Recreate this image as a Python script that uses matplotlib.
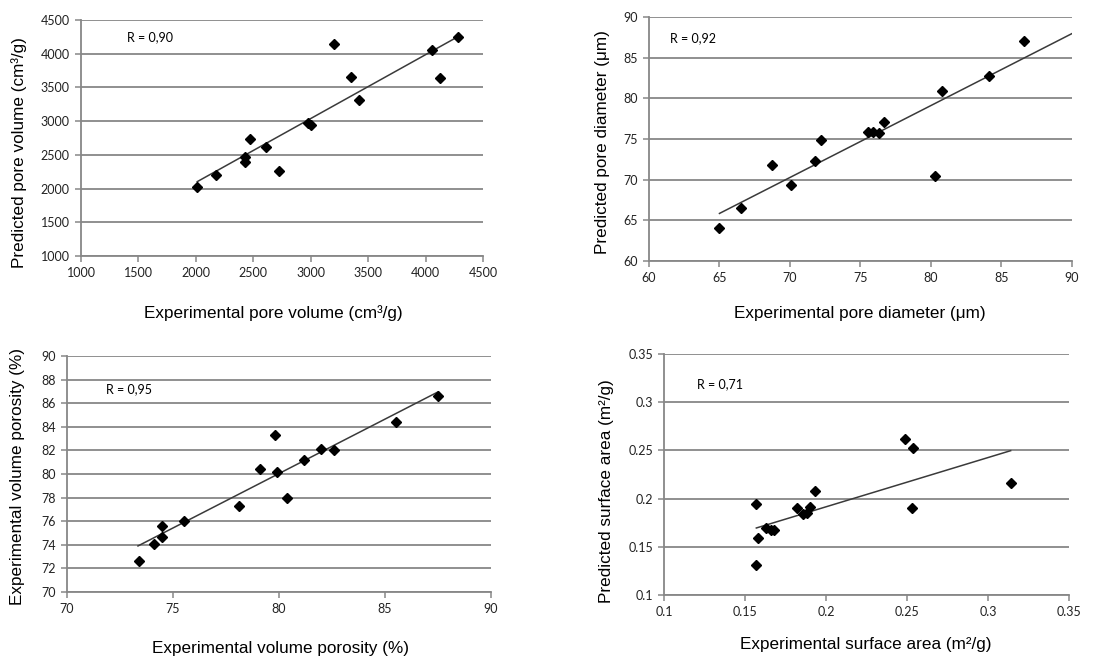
import matplotlib.pyplot as plt
import numpy as np

# panel 1: pore volume
vol_exp = [2012, 2174, 2427, 2427, 2470, 2615, 2720, 2978, 3001, 3201, 3355, 3419, 4059, 4123, 4283]
vol_pred = [2023, 2201, 2473, 2399, 2730, 2617, 2261, 2968, 2943, 4149, 3650, 3314, 4055, 3640, 4253]
vol_trend_x = [2012, 4283]
vol_trend_y = [2102, 4253]

# panel 2: pore diameter
dia_exp = [65.0, 66.5, 68.7, 70.1, 71.8, 72.2, 75.5, 75.9, 76.3, 76.7, 80.3, 80.8, 84.1, 86.6]
dia_pred = [64.1, 66.5, 71.8, 69.4, 72.3, 74.9, 75.8, 75.9, 75.7, 77.1, 70.4, 80.9, 82.7, 87.0]
dia_trend_x = [65.0, 90.0]
dia_trend_y = [65.85, 87.96]

# panel 3: volume porosity
por_exp = [73.4, 74.1, 74.5, 74.5, 75.5, 78.1, 79.1, 79.8, 79.9, 80.4, 81.2, 82.0, 82.6, 85.5, 87.5]
por_pred = [72.6, 74.1, 75.6, 74.7, 76.0, 77.3, 80.4, 83.3, 80.2, 78.0, 81.2, 82.1, 82.0, 84.4, 86.6]
por_trend_x = [73.35, 87.5]
por_trend_y = [73.9, 86.95]

# panel 4: surface area
sa_exp = [0.157, 0.158, 0.157, 0.163, 0.166, 0.168, 0.182, 0.186, 0.188, 0.190, 0.193, 0.249, 0.254, 0.253, 0.314]
sa_pred = [0.194, 0.159, 0.131, 0.170, 0.167, 0.167, 0.190, 0.184, 0.185, 0.191, 0.208, 0.2615, 0.252, 0.190, 0.216]
sa_trend_x = [0.157, 0.314]
sa_trend_y = [0.1695, 0.2497]

GRID = "#878787"
TICK_FONT = "Lato"
LABEL_FONT = "Liberation Sans"

fig = plt.figure(figsize=(11.05, 6.56), dpi=100)


def panel(rect, x, y, tx, ty, xlim, ylim, xticks, yticks, xticklabels, yticklabels,
          r_text, r_pos, xlabel, xlab_pos, ylabel, ylab_pos):
    ax = fig.add_axes(rect)
    ax.set_xlim(*xlim)
    ax.set_ylim(*ylim)
    ax.set_xticks(xticks)
    ax.set_yticks(yticks)
    ax.set_xticklabels(xticklabels, fontfamily=TICK_FONT, fontsize=9, color="#222222")
    ax.set_yticklabels(yticklabels, fontfamily=TICK_FONT, fontsize=9, color="#222222")
    ax.yaxis.grid(True, color=GRID, linewidth=1.3)
    ax.set_axisbelow(True)
    for side in ("top", "right"):
        ax.spines[side].set_visible(False)
    for side in ("left", "bottom"):
        ax.spines[side].set_color(GRID)
        ax.spines[side].set_linewidth(1.3)
    ax.tick_params(direction="out", length=4, width=1.1, color=GRID, pad=4)

    ax.plot(tx, ty, color="#3a3a3a", linewidth=1.1, zorder=2)
    ax.plot(x, y, linestyle="none", marker="D", markersize=5.3, color="black", zorder=3)

    ax.text(r_pos[0], r_pos[1], r_text, transform=ax.transAxes, fontfamily=TICK_FONT,
            fontsize=9, va="center", ha="left")

    ax.set_xlabel(xlabel, fontfamily=LABEL_FONT, fontsize=12.3)
    ax.xaxis.set_label_coords(*xlab_pos)
    ax.xaxis.label.set_va("center")
    ax.set_ylabel(ylabel, fontfamily=LABEL_FONT, fontsize=12.3)
    ax.yaxis.set_label_coords(*ylab_pos)
    ax.yaxis.label.set_va("center")
    return ax


vol_ticks = list(range(1000, 4501, 500))
panel([0.0733, 0.6098, 0.3638, 0.3598], vol_exp, vol_pred, vol_trend_x, vol_trend_y,
      (1000, 4500), (1000, 4500), vol_ticks, vol_ticks,
      [str(t) for t in vol_ticks], [str(t) for t in vol_ticks],
      "R = 0,90", (0.114, 0.928),
      "Experimental pore volume (cm³/g)", (0.478, -0.2415),
      "Predicted pore volume (cm³/g)", (-0.154, 0.44))

dia_ticks = list(range(60, 91, 5))
panel([0.5873, 0.6021, 0.3828, 0.372], dia_exp, dia_pred, dia_trend_x, dia_trend_y,
      (60, 90), (60, 90), dia_ticks, dia_ticks,
      [str(t) for t in dia_ticks], [str(t) for t in dia_ticks],
      "R = 0,92", (0.05, 0.914),
      "Experimental pore diameter (μm)", (0.499, -0.213),
      "Predicted pore diameter (μm)", (-0.109, 0.488))

por_xticks = list(range(70, 91, 5))
por_yticks = list(range(70, 91, 2))
panel([0.0606, 0.0976, 0.3837, 0.3598], por_exp, por_pred, por_trend_x, por_trend_y,
      (70, 90), (70, 90), por_xticks, por_yticks,
      [str(t) for t in por_xticks], [str(t) for t in por_yticks],
      "R = 0,95", (0.092, 0.86),
      "Experimental volume porosity (%)", (0.503, -0.2415),
      "Experimental volume porosity (%)", (-0.116, 0.49))

sa_ticks = [0.1, 0.15, 0.2, 0.25, 0.3, 0.35]
sa_labels = ["0.1", "0.15", "0.2", "0.25", "0.3", "0.35"]
panel([0.6009, 0.093, 0.3665, 0.3674], sa_exp, sa_pred, sa_trend_x, sa_trend_y,
      (0.1, 0.35), (0.1, 0.35), sa_ticks, sa_ticks, sa_labels, sa_labels,
      "R = 0,71", (0.081, 0.875),
      "Experimental surface area (m²/g)", (0.499, -0.207),
      "Predicted surface area (m²/g)", (-0.141, 0.43))

fig.savefig("out.png", dpi=100)
